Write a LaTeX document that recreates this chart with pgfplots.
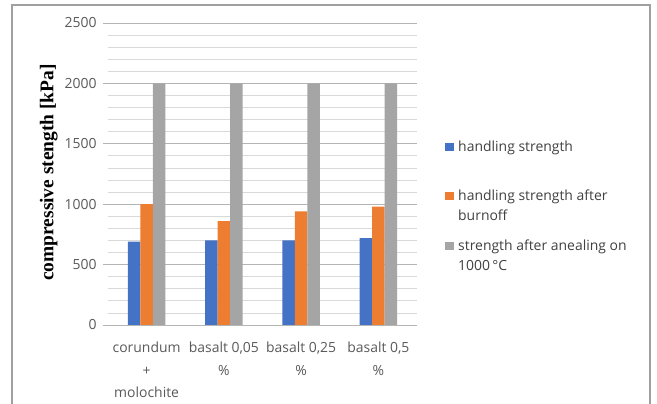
\documentclass[border=0pt]{standalone}
\usepackage{fontspec}
\setmainfont{Open Sans}
\newfontfamily\serifbold{Liberation Serif}
\usepackage{pgfplots}
\pgfplotsset{compat=1.18}
\definecolor{cblue}{HTML}{4472C4}
\definecolor{corange}{HTML}{ED7D31}
\definecolor{cgray}{HTML}{A5A5A5}
\definecolor{gridmajor}{HTML}{B4B4B4}
\definecolor{gridminor}{HTML}{D9D9D9}
\definecolor{ticktext}{HTML}{595959}
\definecolor{legtext}{HTML}{404040}
\definecolor{framecol}{HTML}{A0A0A0}
\begin{document}
\begin{tikzpicture}
\useasboundingbox (0,0) rectangle (657bp,404bp);
\begin{axis}[
  at={(108bp,79bp)}, anchor=south west,
  scale only axis, width=309bp, height=302bp,
  ybar=0pt, bar width=12.5bp,
  every axis plot post/.append style={legend image code/.code={\fill[##1] (0bp,0.5bp) rectangle (8.5bp,8.5bp);}},
  xmin=-0.5, xmax=3.5, ymin=0, ymax=2500,
  xtick={0,1,2,3},
  xticklabels={{corundum\\+\\molochite},{basalt 0,05\\\%},{basalt 0,25\\\%},{basalt 0,5\\\%}},
  ytick={0,500,...,2500}, minor y tick num=4,
  ymajorgrids, yminorgrids,
  major grid style={gridmajor, line width=0.8bp},
  minor grid style={gridminor, line width=0.8bp},
  axis line style={draw=none},
  tick align=outside, ytick pos=left, major tick length=5bp, minor tick length=0pt,
  ytick style={gridmajor, line width=0.8bp}, xtick style={draw=none},
  tick label style={font=\fontsize{14}{16}\selectfont, text=ticktext},
  yticklabel style={xshift=-3bp},
  xticklabel style={align=center, font=\fontsize{14}{23}\selectfont, yshift=-8bp},
  /pgf/number format/assume math mode=true,
  /pgf/number format/set thousands separator={},
  scaled y ticks=false,
  ylabel={compressive stength [kPa]},
  ylabel style={font=\serifbold\bfseries\fontsize{19.5}{22}\selectfont, at={(axis description cs:-0.177,0.505)}, anchor=base},
  legend style={at={(axis description cs:1.0906,0.6126)}, anchor=north west, draw=none, fill=none, inner sep=0pt, column sep=4.5bp, row sep=10.5bp, font=\fontsize{14}{20}\selectfont, text=legtext, cells={anchor=base west}, nodes={inner sep=0pt, text height=11bp, text depth=28bp}},
]
\addplot[fill=cblue, draw=none] coordinates {(0,690) (1,700) (2,700) (3,720)};
\addplot[fill=corange, draw=none] coordinates {(0,1000) (1,860) (2,940) (3,980)};
\addplot[fill=cgray, draw=none] coordinates {(0,2000) (1,2000) (2,2000) (3,2000)};
\legend{handling strength, \parbox[t]{190bp}{handling strength after\\burnoff}, \parbox[t]{190bp}{strength after anealing on\\1000\,°C}}
\end{axis}
\draw[framecol, line width=1.5bp] (12bp,-5bp) -- (12bp,399bp) -- (650bp,399bp) -- (650bp,-5bp);
\end{tikzpicture}
\end{document}
